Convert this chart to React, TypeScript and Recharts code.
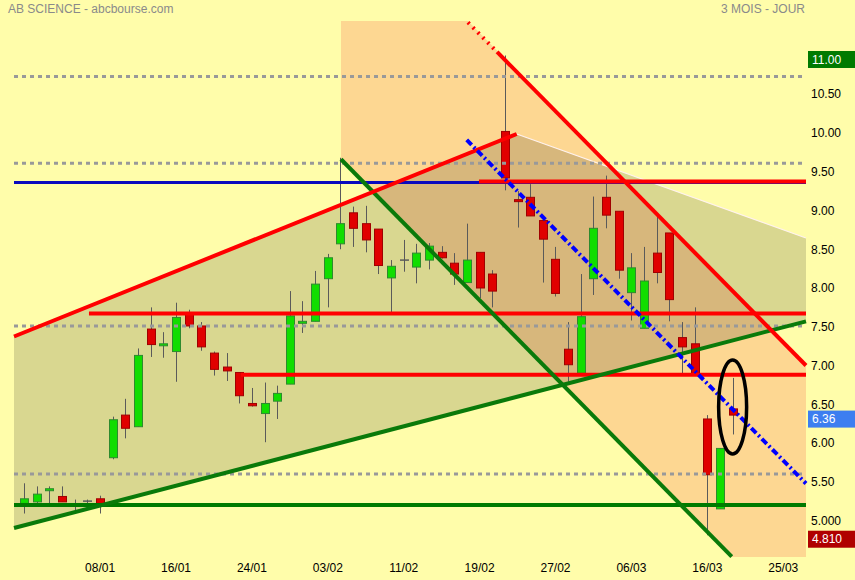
import React from 'react';
import { ComposedChart, Bar, Area, XAxis, YAxis, ReferenceLine, ReferenceDot } from 'recharts';

const FONT = 'Arial, "Liberation Sans", sans-serif';
const BODY_W = 9;

// ---- candles (index 0..56) ----
const candleOpen = [5.22, 5.24, 5.39, 5.31, 5.20, 5.25, 5.28, 5.81, 6.36, 6.21, 7.47, 7.26, 7.18, 7.68, 7.51, 7.16, 6.98, 6.91, 6.51, 6.38, 6.54, 6.76, 7.55, 7.57, 8.12, 8.57, 8.97, 8.83, 8.76, 8.13, 8.36, 8.27, 8.36, 8.46, 8.32, 8.07, 8.46, 8.18, 10.02, 9.14, 9.17, 8.87, 8.37, 7.21, 6.90, 8.12, 9.17, 8.99, 7.94, 7.48, 8.45, 8.71, 7.36, 7.28, 6.31, 5.15, 6.44];
const candleHigh = [5.48, 5.44, 5.44, 5.44, 5.27, 5.27, 5.32, 6.34, 6.57, 7.22, 7.75, 7.43, 7.81, 7.72, 7.56, 7.18, 7.16, 6.91, 6.71, 6.78, 6.74, 7.96, 7.83, 8.22, 8.44, 9.68, 9.05, 9.06, 8.76, 8.36, 8.62, 8.57, 8.58, 8.54, 8.45, 8.83, 8.46, 8.23, 11.00, 9.25, 9.34, 8.87, 8.53, 7.56, 8.18, 9.18, 9.45, 8.99, 8.45, 8.53, 8.95, 8.71, 7.56, 7.75, 6.36, 5.93, 6.84];
const candleLow = [5.09, 5.22, 5.22, 5.24, 5.13, 5.22, 5.09, 5.79, 6.06, 6.21, 7.11, 7.10, 6.79, 7.48, 7.19, 6.87, 6.80, 6.51, 6.47, 6.01, 6.31, 6.76, 7.42, 7.57, 7.75, 8.50, 8.53, 8.46, 8.18, 7.69, 8.21, 8.06, 8.24, 8.38, 8.04, 8.07, 7.87, 7.75, 9.26, 8.78, 8.93, 8.07, 7.89, 6.79, 6.90, 7.91, 8.77, 8.12, 7.58, 7.48, 8.06, 7.57, 6.90, 6.90, 4.81, 5.15, 6.11];
const candleClose = [5.28, 5.34, 5.41, 5.24, 5.20, 5.25, 5.22, 6.30, 6.19, 7.13, 7.27, 7.28, 7.62, 7.51, 7.24, 6.95, 6.93, 6.61, 6.48, 6.51, 6.64, 7.64, 7.57, 8.05, 8.39, 8.83, 8.77, 8.62, 8.29, 8.28, 8.36, 8.45, 8.54, 8.39, 8.18, 8.36, 8.00, 7.96, 9.42, 9.12, 8.93, 8.63, 7.93, 7.01, 7.63, 8.77, 8.94, 8.23, 8.26, 8.09, 8.20, 7.85, 7.24, 6.90, 5.59, 5.93, 6.36];

// ---- axes ----
const xDomain = [-1.913, 61.8];
const xTicks = [6, 12, 18, 24, 30, 36, 42, 48, 54, 60];
const xTickLabels = ['08/01', '16/01', '24/01', '03/02', '11/02', '19/02', '27/02', '06/03', '16/03', '25/03'];
const yDomain = [4.529, 11.445];
const yTicks = [5, 5.5, 6, 6.5, 7, 7.5, 8, 8.5, 9, 9.5, 10, 10.5];
const yTickLabels = ['5.000', '5.50', '6.00', '6.50', '7.00', '7.50', '8.00', '8.50', '9.00', '9.50', '10.00', '10.50'];

// ---- shaded zones ----
const channelX = [-0.806, 38.93, 61.8];
const channelLow = [4.903, 6.596, 7.57];
const channelHigh = [7.374, 9.987, 8.645];
const zoneX = [25.04, 35.08, 55.93, 61.8];
const zoneLow = [9.661, 7.994, 4.529, 4.529];
const zoneHigh = [11.445, 11.445, 7.973, 7.0];

// ---- horizontal levels ----
const dottedLevels = [10.73, 9.61, 7.51, 5.6];
const redLevels = [9.375, 7.67, 6.88];
const redLevelStart = [35.95, 5.12, 17.14];
const blueLevel = 9.36;
const greenLevel = 5.2;
const levelStart = -0.806;
const levelEnd = 61.8;
const dottedEnd = 61.6;

// ---- trend lines [x1, y1, x2, y2] ----
const redRising = [-0.806, 7.374, 38.93, 9.987];
const whiteEdge = [38.93, 9.987, 61.8, 8.645];
const greenRising = [-0.806, 4.903, 61.8, 7.57];
const greenFalling = [25.04, 9.661, 55.93, 4.533];
const redFallingDotted = [35.08, 11.427, 37.38, 11.046];
const redFalling = [37.38, 11.046, 61.8, 7.0];
const blueFalling = [34.98, 9.91, 61.8, 5.477];

// ---- marker ----
const ellipseAt = { x: 56, y: 6.465 };

// ---- price boxes ----
const boxPrices = [11.0, 6.36, 4.81];
const boxTexts = ['11.00', '6.36', '4.810'];
const boxColors = ['#007A00', '#3D7EF0', '#B00000'];

const candles = candleOpen.map((o, i) => ({
  i,
  open: o,
  high: candleHigh[i],
  low: candleLow[i],
  close: candleClose[i],
}));
const channelData = channelX.map((x, k) => ({ i: x, range: [channelLow[k], channelHigh[k]] }));
const zoneData = zoneX.map((x, k) => ({ i: x, range: [zoneLow[k], zoneHigh[k]] }));

const Candle = (props: any) => {
  const { x, y, width, height, payload } = props;
  if (x == null || !payload || !height) return null;
  const { open, close, high, low } = payload;
  const ratio = height / (high - low);
  const cx = Math.round(x + (width || 0) / 2) + 0.5;
  const left = cx - BODY_W / 2;
  const yO = y + (high - open) * ratio;
  const yC = y + (high - close) * ratio;
  const up = close > open;
  const doji = Math.abs(close - open) < 0.005;
  const top = Math.min(yO, yC);
  const h = Math.max(Math.abs(yO - yC), 2);
  return (
    <g>
      <line x1={cx} x2={cx} y1={y} y2={y + height} stroke="#5a5a5a" strokeWidth={1} />
      {doji ? (
        <line x1={left} x2={left + BODY_W} y1={yO} y2={yO} stroke="#5a5a5a" strokeWidth={1.5} />
      ) : (
        <rect
          x={left + 0.5}
          y={top}
          width={BODY_W - 1}
          height={h}
          fill={up ? '#11DD00' : '#E00000'}
          stroke={up ? '#2E8A2E' : '#A00000'}
          strokeWidth={1}
        />
      )}
    </g>
  );
};

const seg = (s: number[]) => [
  { x: s[0], y: s[1] },
  { x: s[2], y: s[3] },
];

const makeBox = (k: number) => (p: any) => {
  const vb = p.viewBox || {};
  const right = (vb.x || 0) + (vb.width || 0);
  const cy = vb.y || 0;
  return (
    <g>
      <rect x={right + 2} y={cy - 4.5} width={855 - right - 2} height={17} fill={boxColors[k]} />
      <text x={right + 6} y={cy + 4} dy="0.355em" fill="#fff" fontSize={12} fontFamily={FONT}>
        {boxTexts[k]}
      </text>
    </g>
  );
};

const EllipseShape = (p: any) => (
  <ellipse cx={p.cx} cy={p.cy} rx={14} ry={47} fill="none" stroke="#000" strokeWidth={3.5} />
);

export default function App() {
  return (
    <div style={{ position: 'absolute', left: 0, top: 0, width: 855, height: 580, background: '#FFFDAA', fontFamily: FONT, overflow: 'hidden' }}>
      <ComposedChart width={855} height={580} data={candles} margin={{ top: 21, right: 0, bottom: 0, left: 0 }}>
        <XAxis
          dataKey="i"
          type="number"
          domain={xDomain}
          allowDataOverflow
          ticks={xTicks}
          interval={0}
          tickFormatter={(v: number) => xTickLabels[xTicks.indexOf(v)] ?? ''}
          axisLine={false}
          tickLine={false}
          tickSize={0}
          tickMargin={6}
          height={23}
          tick={{ fill: '#000', fontSize: 12, fontFamily: FONT }}
        />
        <YAxis
          orientation="right"
          type="number"
          domain={yDomain}
          allowDataOverflow
          ticks={yTicks}
          interval={0}
          tickFormatter={(v: number) => yTickLabels[yTicks.indexOf(v)] ?? ''}
          axisLine={false}
          tickLine={false}
          tickSize={0}
          tickMargin={5}
          width={49}
          tick={{ fill: '#000', fontSize: 12, fontFamily: FONT, textAnchor: 'start' }}
        />
        <Area data={zoneData} dataKey="range" type="linear" stroke="none" fill="#FDD792" fillOpacity={1} isAnimationActive={false} />
        <Area data={channelData} dataKey="range" type="linear" stroke="none" fill="#000" fillOpacity={0.15} isAnimationActive={false} />
        <Bar dataKey={(d: any) => [d.low, d.high]} shape={Candle} barSize={9} isAnimationActive={false} />

        <ReferenceLine segment={seg(whiteEdge)} stroke="#FFF2EE" strokeWidth={1.2} />
        {dottedLevels.map((v, k) => (
          <ReferenceLine key={'d' + k} segment={seg([levelStart, v, dottedEnd, v])} stroke="#999" strokeWidth={3} strokeDasharray="4 4" />
        ))}
        <ReferenceLine segment={seg([levelStart, blueLevel, levelEnd, blueLevel])} stroke="#0A0ABE" strokeWidth={3} />
        {redLevels.map((v, k) => (
          <ReferenceLine key={'r' + k} segment={seg([redLevelStart[k], v, levelEnd, v])} stroke="#FF0000" strokeWidth={4} />
        ))}
        <ReferenceLine segment={seg([levelStart, greenLevel, levelEnd, greenLevel])} stroke="#007A00" strokeWidth={4} />
        <ReferenceLine segment={seg(greenRising)} stroke="#0A7A0A" strokeWidth={4} />
        <ReferenceLine segment={seg(greenFalling)} stroke="#0A7A0A" strokeWidth={4} />
        <ReferenceLine segment={seg(redRising)} stroke="#FF0000" strokeWidth={4} />
        <ReferenceLine segment={seg(redFallingDotted)} stroke="#FF0000" strokeWidth={4} strokeDasharray="2 5" />
        <ReferenceLine segment={seg(redFalling)} stroke="#FF0000" strokeWidth={4} />
        <ReferenceLine segment={seg(blueFalling)} stroke="#0000FF" strokeWidth={4} strokeDasharray="7 3 2 3" />
        <ReferenceDot x={ellipseAt.x} y={ellipseAt.y} shape={EllipseShape} />
        {boxPrices.map((v, k) => (
          <ReferenceLine key={'b' + k} y={v} stroke="none" label={makeBox(k)} />
        ))}
      </ComposedChart>
      <div style={{ position: 'absolute', left: 8, top: 2, fontSize: 12, color: '#8a8a8a', zIndex: 2 }}>AB SCIENCE - abcbourse.com</div>
      <div style={{ position: 'absolute', right: 50, top: 2, fontSize: 12, color: '#8a8a8a', zIndex: 2 }}>3 MOIS - JOUR</div>
    </div>
  );
}
